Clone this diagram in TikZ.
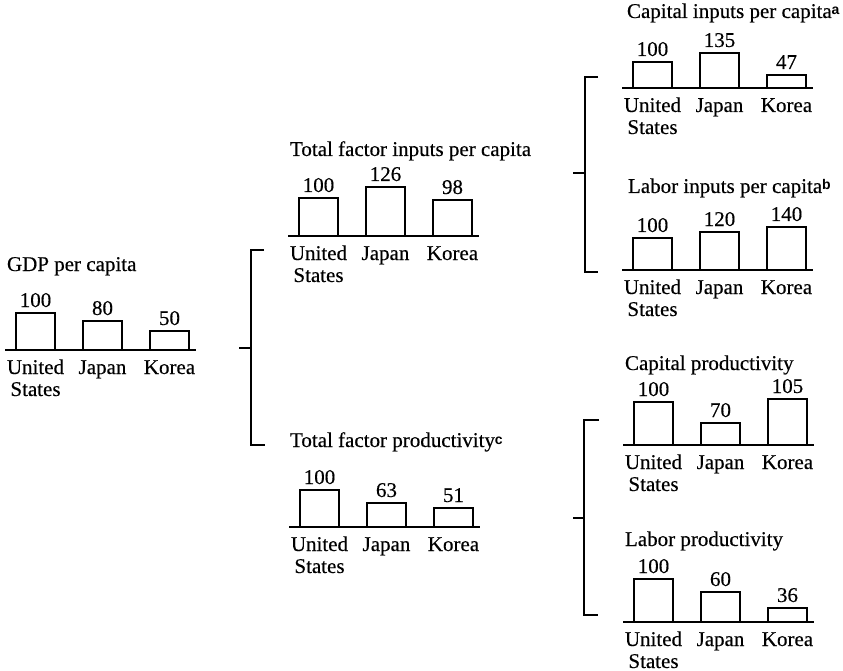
\documentclass[tikz,border=0pt]{standalone}
\usepackage{fontspec}
\setmainfont{Liberation Serif}[BoldFont={Liberation Serif}, BoldFeatures={FakeBold=0.35}]
\newfontfamily\notefont{Liberation Sans}

\tikzset{
  every node/.style={inner sep=0pt, outer sep=0pt, font=\fontsize{21}{22}\selectfont\bfseries},
  chartline/.style={line width=1.8pt, line cap=butt, line join=miter},
  bracketline/.style={line width=1.8pt},
  valuelabel/.style={anchor=base},
  catlabel/.style={anchor=base},
  paneltitle/.style={anchor=base west},
}

% superscript note marker set in a small bold sans face
\newcommand\fnmark[1]{\raisebox{3pt}{\notefont\bfseries\fontsize{14}{14}\selectfont #1}}

% three-bar panel: #1 name, #2 left end of axis, #3 axis level, #4 list of height/value
\newcommand\barpanel[4]{%
  \draw[chartline] (#2,#3) -- ++(191,0);
  \foreach \h/\v [count=\i] in {#4} {
    \pgfmathsetmacro\bx{#2+11+67*(\i-1)}
    \draw[chartline] (\bx,#3) -- ++(0,-\h) -- ++(39,0) -- ++(0,\h);
    \node[valuelabel] (#1-v\i) at (\bx+19.5,#3-\h-6) {\v};
  }
  \node[catlabel] (#1-us)    at (#2+30.5,#3+24) {United};
  \node[catlabel] (#1-us2)   at (#2+30.5,#3+46) {States};
  \node[catlabel] (#1-japan) at (#2+97.5,#3+24) {Japan};
  \node[catlabel] (#1-korea) at (#2+164.5,#3+24) {Korea};
}

\begin{document}
\begin{tikzpicture}[x=1pt, y=-1pt]
  \fill[white] (0,0) rectangle (843,671);
  \useasboundingbox (0,0) rectangle (843,671);

  % GDP per capita
  \node[paneltitle] (gdp) at (7,271) {GDP per capita};
  \barpanel{gdp}{5}{350}{37/100,29/80,19/50}

  % Total factor inputs per capita
  \node[paneltitle] (tfi) at (290,156) {Total factor inputs per capita};
  \barpanel{tfi}{288}{236}{38/100,49/126,36/98}

  % Total factor productivity
  \node[paneltitle] (tfp) at (290,447) {Total factor productivity\fnmark{c}};
  \barpanel{tfp}{289}{527}{37/100,24/63,19/51}

  % Capital inputs per capita
  \node[paneltitle] (cin) at (627,18) {Capital inputs per capita\fnmark{a}};
  \barpanel{cin}{622}{88}{26/100,35/135,13/47}

  % Labor inputs per capita
  \node[paneltitle] (lin) at (628,193) {Labor inputs per capita\fnmark{b}};
  \barpanel{lin}{622}{270}{32/100,38/120,43/140}

  % Capital productivity
  \node[paneltitle] (cpr) at (625,370) {Capital productivity};
  \barpanel{cpr}{623}{445}{43/100,22/70,46/105}

  % Labor productivity
  \node[paneltitle] (lpr) at (625,546) {Labor productivity};
  \barpanel{lpr}{623}{622}{43/100,30/60,14/36}

  % bracket: GDP splits into inputs and productivity
  \coordinate (b1in)  at (239,348);
  \coordinate (b1mid) at (251,348);
  \coordinate (b1top) at (264,250);
  \coordinate (b1bot) at (265,445);
  \draw[bracketline] (b1top) -| (b1mid) |- (b1bot);
  \draw[bracketline] (b1in) -- (b1mid);

  % bracket: total factor inputs splits into capital and labor inputs
  \coordinate (b2in)  at (573,173);
  \coordinate (b2mid) at (585,173);
  \coordinate (b2top) at (598,77);
  \coordinate (b2bot) at (598,272);
  \draw[bracketline] (b2top) -| (b2mid) |- (b2bot);
  \draw[bracketline] (b2in) -- (b2mid);

  % bracket: total factor productivity splits into capital and labor productivity
  \coordinate (b3in)  at (573,518);
  \coordinate (b3mid) at (584,518);
  \coordinate (b3top) at (599,420);
  \coordinate (b3bot) at (598,615);
  \draw[bracketline] (b3top) -| (b3mid) |- (b3bot);
  \draw[bracketline] (b3in) -- (b3mid);
\end{tikzpicture}
\end{document}
